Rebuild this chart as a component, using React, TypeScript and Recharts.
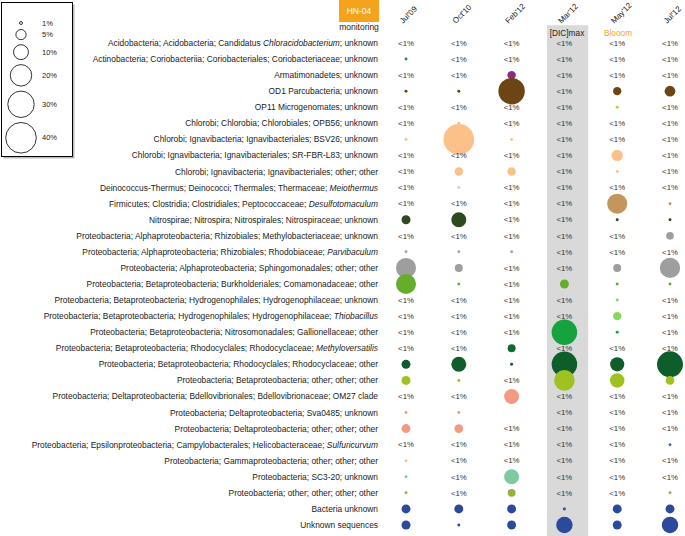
import React from 'react';
import { ScatterChart, Scatter, XAxis, YAxis, ZAxis, Cell, ReferenceArea } from 'recharts';

// sampling dates (columns)
const columns = ["Jul'09", "Oct'10", "Feb'12", "Mar'12", "May'12", "Jul'12"];

// taxa (rows), text between * is italic
const taxa = [
  'Acidobacteria; Acidobacteria; Candidatus *Chloracidobacterium*; unknown',
  'Actinobacteria; Coriobacteriia; Coriobacteriales; Coriobacteriaceae; unknown',
  'Armatimonadetes; unknown',
  'OD1 Parcubacteria; unknown',
  'OP11 Microgenomates; unknown',
  'Chlorobi; Chlorobia; Chlorobiales; OPB56; unknown',
  'Chlorobi; Ignavibacteria; Ignavibacteriales; BSV26; unknown',
  'Chlorobi; Ignavibacteria; Ignavibacteriales; SR-FBR-L83; unknown',
  'Chlorobi; Ignavibacteria; Ignavibacteriales; other; other',
  'Deinococcus-Thermus; Deinococci; Thermales; Thermaceae; *Meiothermus*',
  'Firmicutes; Clostridia; Clostridiales; Peptococcaceae; *Desulfotomaculum*',
  'Nitrospirae; Nitrospira; Nitrospirales; Nitrospiraceae; unknown',
  'Proteobacteria; Alphaproteobacteria; Rhizobiales; Methylobacteriaceae; unknown',
  'Proteobacteria; Alphaproteobacteria; Rhizobiales; Rhodobiaceae; *Parvibaculum*',
  'Proteobacteria; Alphaproteobacteria; Sphingomonadales; other; other',
  'Proteobacteria; Betaproteobacteria; Burkholderiales; Comamonadaceae; other',
  'Proteobacteria; Betaproteobacteria; Hydrogenophilales; Hydrogenophilaceae; unknown',
  'Proteobacteria; Betaproteobacteria; Hydrogenophilales; Hydrogenophilaceae; *Thiobacillus*',
  'Proteobacteria; Betaproteobacteria; Nitrosomonadales; Gallionellaceae; other',
  'Proteobacteria; Betaproteobacteria; Rhodocyclales; Rhodocyclaceae; *Methyloversatilis*',
  'Proteobacteria; Betaproteobacteria; Rhodocyclales; Rhodocyclaceae; other',
  'Proteobacteria; Betaproteobacteria; other; other; other',
  'Proteobacteria; Deltaproteobacteria; Bdellovibrionales; Bdellovibrionaceae; OM27 clade',
  'Proteobacteria; Deltaproteobacteria; Sva0485; unknown',
  'Proteobacteria; Deltaproteobacteria; other; other; other',
  'Proteobacteria; Epsilonproteobacteria; Campylobacterales; Helicobacteraceae; *Sulfuricurvum*',
  'Proteobacteria; Gammaproteobacteria; other; other; other',
  'Proteobacteria; SC3-20; unknown',
  'Proteobacteria; other; other; other; other',
  'Bacteria unknown',
  'Unknown sequences',
];

// relative abundance in % (0 = "<1%", null = empty cell)
const abundance: (number | null)[][] = [
  [0, 0, 0, 0, 0, 0],
  [1, 0, 0, 0, 0, 0],
  [0, 0, 3.6, 0, 0, 0],
  [1, 1, 30, 0, 3.5, 5.5],
  [0, 0, 0, 0, 1, 0],
  [0, 1, 0, 0, 0, 0],
  [1, 40, 1, 0, 0, 0],
  [0, 0, 0, 0, 6, 0],
  [0, 3.6, 3.6, 0, 1, 0],
  [0, 1, 0, 0, 0, 0],
  [0, 0, 0, 0, 17.5, 1],
  [4, 10, 0, 0, 1, 1],
  [0, 0, 0, 0, 0, 3.1],
  [1, 1, 1, 0, 0, 0],
  [17.5, 3.3, 0, 0, 3.3, 18],
  [17.5, 1, 0, 4, 1, 1],
  [0, 0, 0, 0, 1, 0],
  [0, 0, 0, 0, 3.6, 0],
  [0, 0, 0, 28, 1, 0],
  [0, 0, 3.3, 0, 0, 0],
  [4, 10, 1, 28, 9, 29],
  [4, 1, 0, 18.5, 9.5, 3.8],
  [0, 0, 10, 0, 0, 0],
  [1, 1, null, 0, 0, 0],
  [4, 3.8, 0, 0, 0, 0],
  [0, 0, 0, 0, 0, 1],
  [1, 0, 0, 0, 0, 0],
  [1, 0, 10, 0, 0, 0],
  [1, 0, 3.3, 0, 0, 1],
  [4, 4, 4, 1, 4, 4],
  [4, 1, 4, 12, 4, 12],
];

const rowColors = [
  '#888888', '#2e8b4a', '#8e2a8e', '#6b4513', '#b8d030', '#fbc189', '#fbc189', '#fbc189',
  '#fbc189', '#cfcfcf', '#c4965c', '#2c4a1e', '#9e9e9e', '#a6a6a6', '#9e9e9e', '#66ad2c',
  '#8fd45e', '#8fd45e', '#16a23c', '#0e6a2e', '#0d5e2a', '#9fc122', '#f29a83', '#f29a83',
  '#f29a83', '#4669b8', '#f7c58e', '#7fc99c', '#9aaf3c', '#2c4a9c', '#2c4a9c',
];

const legendSizes = [1, 5, 10, 20, 30, 40];

const Z_DOMAIN: [number, number] = [1, 40];
const Z_RANGE: [number, number] = [7, 735];
const FONT = '"Liberation Sans", Arial, sans-serif';

const radiusOf = (p: number) => {
  const area = Z_RANGE[0] + ((p - Z_DOMAIN[0]) / (Z_DOMAIN[1] - Z_DOMAIN[0])) * (Z_RANGE[1] - Z_RANGE[0]);
  return Math.sqrt(area / Math.PI);
};

const bubbles: { x: number; y: number; z: number; color: string }[] = [];
const smallCells: { x: number; y: number; z: number }[] = [];
abundance.forEach((row, y) => {
  row.forEach((v, x) => {
    if (v === null) return;
    if (v >= 1) bubbles.push({ x, y, z: v, color: rowColors[y] });
    else smallCells.push({ x, y, z: 1 });
  });
});

const TaxonTick = (props: any) => {
  const { x, y, payload } = props;
  const parts = taxa[payload.value].split('*');
  return (
    <text x={x} y={y} dy={3} textAnchor="end" fontSize={8.4} fill="#222" fontFamily={FONT}>
      {parts.map((p, i) => (
        <tspan key={i} fontStyle={i % 2 ? 'italic' : 'normal'}>{p}</tspan>
      ))}
    </text>
  );
};

const ColumnTick = (props: any) => {
  const { x, y, payload } = props;
  return (
    <text
      x={0}
      y={0}
      transform={`translate(${x - 3},${y}) rotate(-45)`}
      textAnchor="start"
      fontSize={8}
      fill="#222"
      fontFamily={FONT}
    >
      {columns[payload.value]}
    </text>
  );
};

const LessThan = (props: any) => {
  const { cx, cy } = props;
  return (
    <text x={cx} y={cy} dy={2.7} textAnchor="middle" fontSize={7.8} fill="#333" fontFamily={FONT}>
      &lt;1%
    </text>
  );
};

const SizeLegend = () => {
  let cy = 23;
  const items = legendSizes.map((p, i) => {
    const r = radiusOf(p);
    if (i > 0) cy += radiusOf(legendSizes[i - 1]) + r + 5;
    return { p, r, cy };
  });
  return (
    <svg width={80} height={165} style={{ position: 'absolute', left: 0, top: 0 }}>
      <rect x={3.5} y={4.5} width={71} height={154} fill="#bbb" />
      <rect x={1.5} y={2.5} width={71} height={154} fill="#fff" stroke="#000" strokeWidth={1} />
      {items.map((d) => (
        <g key={d.p}>
          <circle cx={21} cy={d.cy} r={d.r} fill="none" stroke="#000" strokeWidth={0.8} />
          <text x={42} y={d.cy} dy={2.7} fontSize={7.5} fill="#222" fontFamily={FONT}>
            {d.p}%
          </text>
        </g>
      ))}
    </svg>
  );
};

const Annotations = () => (
  <svg width={685} height={45} style={{ position: 'absolute', left: 0, top: 0, pointerEvents: 'none' }}>
    <rect x={339} y={0} width={40} height={22} fill="#f5a31d" />
    <text x={359} y={14} textAnchor="middle" fontSize={8.5} fill="#fff" fontFamily={FONT}>HN-04</text>
    <text x={359} y={30} textAnchor="middle" fontSize={8.5} fill="#222" fontFamily={FONT}>monitoring</text>
    <text x={567} y={36} textAnchor="middle" fontSize={8.3} fill="#222" fontFamily={FONT}>[DIC]max</text>
    <text x={618} y={36} textAnchor="middle" fontSize={8.3} fill="#f5a31d" fontFamily={FONT}>Blooom</text>
  </svg>
);

export default function App() {
  return (
    <div style={{ position: 'absolute', left: 0, top: 0, width: 685, height: 536, background: '#fff' }}>
      <ScatterChart width={685} height={536} margin={{ top: 0, right: 15, bottom: 11, left: 0 }}>
        <XAxis
          type="number"
          dataKey="x"
          orientation="top"
          domain={[0, 5]}
          ticks={[0, 1, 2, 3, 4, 5]}
          interval={0}
          height={43}
          axisLine={false}
          tickLine={false}
          tickSize={0}
          tickMargin={19}
          tick={<ColumnTick />}
        />
        <YAxis
          type="number"
          dataKey="y"
          domain={[0, 30]}
          reversed
          ticks={taxa.map((_, i) => i)}
          interval={0}
          width={406}
          axisLine={false}
          tickLine={false}
          tickSize={0}
          tickMargin={28}
          tick={<TaxonTick />}
        />
        <ZAxis type="number" dataKey="z" domain={Z_DOMAIN} range={Z_RANGE} />
        <ReferenceArea x1={2.67} x2={3.45} y1={-1.1} y2={30.7} fill="#d9d9d9" fillOpacity={1} stroke="none" ifOverflow="visible" />
        <Scatter data={bubbles} isAnimationActive={false}>
          {bubbles.map((d, i) => (
            <Cell key={i} fill={d.color} />
          ))}
        </Scatter>
        <Scatter data={smallCells} isAnimationActive={false} shape={<LessThan />} />
      </ScatterChart>
      <SizeLegend />
      <Annotations />
    </div>
  );
}
